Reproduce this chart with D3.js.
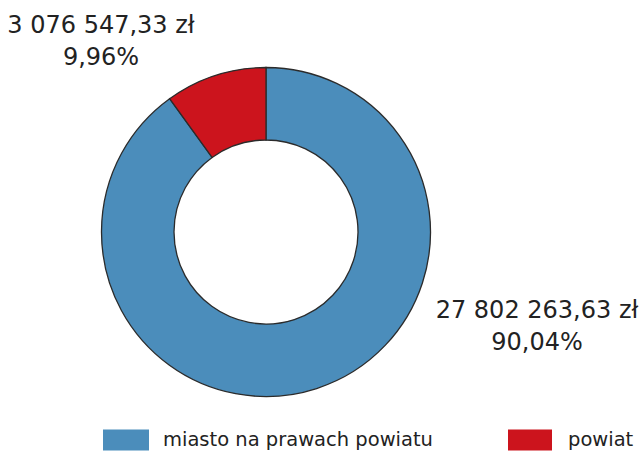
<!DOCTYPE html>
<html><head><meta charset="utf-8">
<script src="https://cdn.jsdelivr.net/npm/d3@7"></script>
<style>body{margin:0;background:#fff}svg{display:block}</style>
</head><body>
<svg id="c" width="643" height="451"></svg>
<script>
const categories = ["miasto na prawach powiatu", "powiat"];
const values = [27802263.63, 3076547.33];
const valueLabels = ["27 802 263,63 zł", "3 076 547,33 zł"];
const percentLabels = ["90,04%", "9,96%"];
const colors = ["#4b8dbb", "#cc141d"];

const svg = d3.select("#c");
const font = "'DejaVu Sans', sans-serif";
const cx = 266, cy = 232, rOuter = 164.5, rInner = 92;

const pie = d3.pie().sort(null).value(d => d);
const arc = d3.arc().innerRadius(rInner).outerRadius(rOuter);
const g = svg.append("g").attr("transform", `translate(${cx},${cy})`);
g.selectAll("path").data(pie(values)).join("path")
  .attr("d", arc).attr("fill", (d, i) => colors[i])
  .attr("stroke", "#2b2b2b").attr("stroke-width", 1.3);

const labelPos = [[537, 310, 342], [101, 25, 57]];
categories.forEach((c, i) => {
  const [x, y1, y2] = labelPos[i];
  svg.append("text").attr("x", x).attr("y", y1 + 8).attr("text-anchor", "middle")
    .attr("font-family", font).attr("font-size", 24).attr("fill", "#222").text(valueLabels[i]);
  svg.append("text").attr("x", x).attr("y", y2 + 8).attr("text-anchor", "middle")
    .attr("font-family", font).attr("font-size", 24).attr("fill", "#222").text(percentLabels[i]);
});

const legX = [103, 508], legW = [46, 44], legTx = [163, 568];
categories.forEach((c, i) => {
  svg.append("rect").attr("x", legX[i]).attr("y", 429.5).attr("width", legW[i]).attr("height", 21).attr("fill", colors[i]);
  svg.append("text").attr("x", legTx[i]).attr("y", 446)
    .attr("font-family", font).attr("font-size", 19.5).attr("fill", "#222").text(c);
});
</script>
</body></html>
